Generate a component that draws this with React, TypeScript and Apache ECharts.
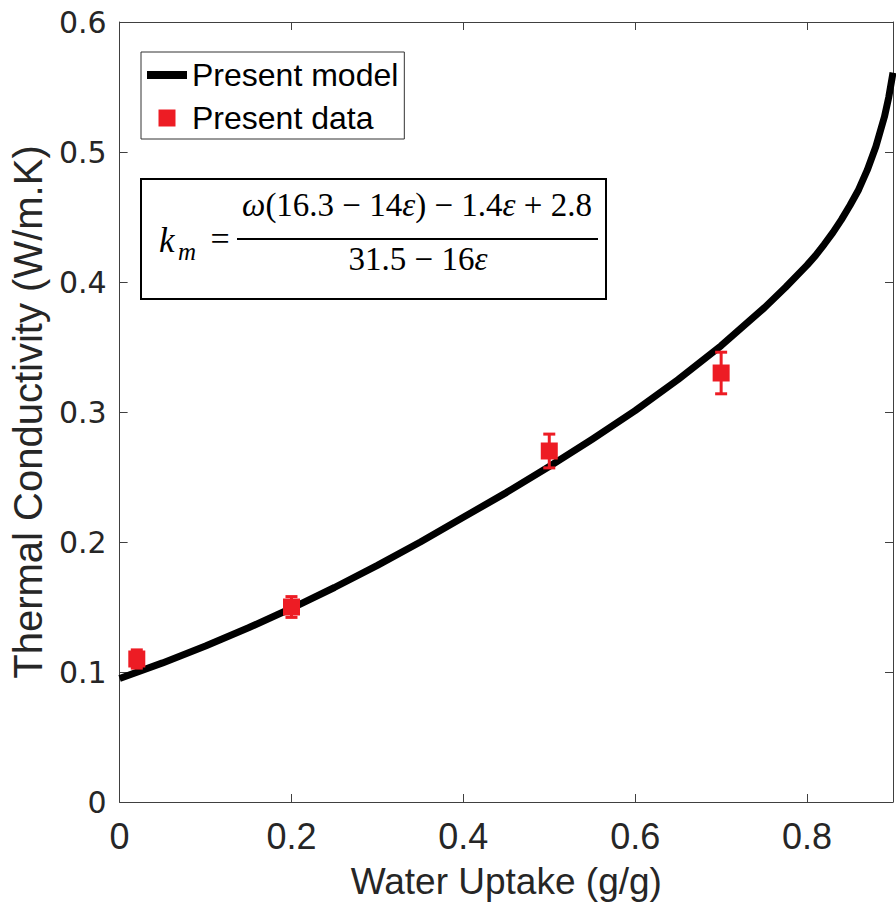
import React, { useEffect, useRef } from 'react';
import * as echarts from 'echarts';

// Model curve
const modelX = [0, 0.05, 0.1, 0.15, 0.2, 0.25, 0.3, 0.35, 0.4, 0.45, 0.5, 0.55, 0.6, 0.65, 0.7, 0.75, 0.775, 0.8, 0.81, 0.82, 0.83, 0.84, 0.85, 0.86, 0.87, 0.88, 0.89, 0.895, 0.9];
const modelY = [0.095, 0.107, 0.12, 0.134, 0.149, 0.165, 0.182, 0.2, 0.219, 0.238, 0.258, 0.279, 0.301, 0.325, 0.351, 0.38, 0.396, 0.413, 0.4205, 0.429, 0.438, 0.448, 0.459, 0.471, 0.486, 0.504, 0.527, 0.542, 0.561];

// Measured data with error bars
const dataX = [0.02, 0.2, 0.5, 0.7];
const dataY = [0.11, 0.15, 0.27, 0.33];
const dataErr = [0.007, 0.008, 0.013, 0.016];

// Axis ticks
const xTickValues = [0, 0.2, 0.4, 0.6, 0.8];
const yTickValues = [0, 0.1, 0.2, 0.3, 0.4, 0.5, 0.6];

const RED = '#ED1C24';
const AXIS = '#404040';
const TXT = '#262626';
const SANS = '"Liberation Sans", Arial, sans-serif';
const SERIF = '"Liberation Serif", "Times New Roman", serif';

export default function App() {
  const ref = useRef<HTMLDivElement>(null);

  useEffect(() => {
    document.body.style.margin = '0';
    const chart = echarts.init(ref.current!, undefined, { renderer: 'svg' });

    const fmt = (v: number) => String(+v.toFixed(1));
    const isTick = (arr: number[], v: number) => arr.some((t) => Math.abs(t - v) < 1e-6);

    const option: any = {
      animation: false,
      backgroundColor: '#fff',
      grid: { left: 117, top: 22, right: -3, bottom: 109, containLabel: false },
      xAxis: [
        {
          type: 'value', min: 0, max: 0.9, interval: 0.2,
          name: 'Water Uptake (g/g)', nameLocation: 'middle', nameGap: 61,
          nameTextStyle: { fontFamily: SANS, fontSize: 37, color: TXT },
          axisLine: { show: true, lineStyle: { color: AXIS, width: 1 } },
          axisTick: { show: true, inside: true, length: 8, lineStyle: { color: AXIS } },
          axisLabel: { formatter: (v: number) => (isTick(xTickValues, v) ? fmt(v) : ''), fontFamily: SANS, fontSize: 36, color: TXT, margin: 16 },
          splitLine: { show: false },
        },
        {
          type: 'value', position: 'top', min: 0, max: 0.9, interval: 0.2,
          axisLine: { show: true, onZero: false, lineStyle: { color: AXIS, width: 1 } },
          axisTick: { show: true, inside: true, length: 8, lineStyle: { color: AXIS } },
          axisLabel: { show: false },
          splitLine: { show: false },
        },
      ],
      yAxis: [
        {
          type: 'value', min: 0, max: 0.6, interval: 0.1,
          name: 'Thermal Conductivity (W/m.K)', nameLocation: 'middle', nameGap: 64,
          nameTextStyle: { fontFamily: SANS, fontSize: 40, color: TXT },
          axisLine: { show: true, lineStyle: { color: AXIS, width: 1 } },
          axisTick: { show: true, inside: true, length: 8, lineStyle: { color: AXIS } },
          axisLabel: { formatter: (v: number) => (isTick(yTickValues, v) ? fmt(v) : ''), fontFamily: '"DejaVu Sans", sans-serif', fontSize: 30, color: TXT, margin: 13 },
          splitLine: { show: false },
        },
        {
          type: 'value', position: 'right', min: 0, max: 0.6, interval: 0.1,
          axisLine: { show: true, onZero: false, lineStyle: { color: AXIS, width: 1 } },
          axisTick: { show: true, inside: true, length: 8, lineStyle: { color: AXIS } },
          axisLabel: { show: false },
          splitLine: { show: false },
        },
      ],
      legend: {
        left: 141, top: 52, orient: 'vertical',
        backgroundColor: '#fff', borderColor: '#333', borderWidth: 1, borderRadius: 0,
        padding: [6, 6, 4, 6], itemGap: 9, itemWidth: 40, itemHeight: 17,
        symbolKeepAspect: true,
        textStyle: { fontFamily: SANS, fontSize: 32, color: '#000', lineHeight: 34 },
        data: [
          { name: 'Present model', icon: 'path://M0,0h40v8h-40z' },
          { name: 'Present data', icon: 'path://M0,0h10v10h-10z' },
        ],
      },
      series: [
        {
          name: 'Present model', type: 'line', smooth: false, showSymbol: false,
          data: modelX.map((x, i) => [x, modelY[i]]),
          lineStyle: { color: '#000', width: 7, cap: 'butt', join: 'round' }, itemStyle: { color: '#000' },
          z: 2,
        },
        {
          type: 'custom', name: 'err',
          encode: { x: 0, y: [1, 2] },
          data: dataX.map((x, i) => [x, dataY[i] - dataErr[i], dataY[i] + dataErr[i]]),
          renderItem: (params: any, api: any) => {
            const x = api.value(0);
            const lo = api.coord([x, api.value(1)]);
            const hi = api.coord([x, api.value(2)]);
            const w = 6;
            const st = { stroke: RED, lineWidth: 3 };
            return {
              type: 'group',
              children: [
                { type: 'line', shape: { x1: hi[0], y1: hi[1], x2: lo[0], y2: lo[1] }, style: st },
                { type: 'line', shape: { x1: hi[0] - w, y1: hi[1], x2: hi[0] + w, y2: hi[1] }, style: st },
                { type: 'line', shape: { x1: lo[0] - w, y1: lo[1], x2: lo[0] + w, y2: lo[1] }, style: st },
              ],
            };
          },
          z: 3,
        },
        {
          name: 'Present data', type: 'scatter', symbol: 'rect', symbolSize: 17,
          data: dataX.map((x, i) => [x, dataY[i]]),
          itemStyle: { color: RED, opacity: 1 },
          z: 4,
        },
      ],
      graphic: [
        { type: 'rect', shape: { x: 141, y: 179, width: 465, height: 120 }, style: { fill: '#fff', stroke: '#000', lineWidth: 2 }, z: 10 },
        { type: 'text', x: 159, y: 240, style: { text: 'k', fontFamily: SERIF, fontStyle: 'italic', fontSize: 35, fill: '#000', align: 'left', verticalAlign: 'middle' }, z: 11 },
        { type: 'text', x: 178, y: 251, style: { text: 'm', fontFamily: SERIF, fontStyle: 'italic', fontSize: 25, fill: '#000', align: 'left', verticalAlign: 'middle' }, z: 11 },
        { type: 'text', x: 220, y: 238, style: { text: '=', fontFamily: SERIF, fontSize: 34, fill: '#000', align: 'center', verticalAlign: 'middle' }, z: 11 },
        { type: 'line', shape: { x1: 237, y1: 239, x2: 598, y2: 239 }, style: { stroke: '#000', lineWidth: 2 }, z: 11 },
        {
          type: 'text', x: 417, y: 205,
          style: {
            text: '{i|ω}(16.3 − 14{i|ε}) − 1.4{i|ε} + 2.8',
            fontFamily: SERIF, fontSize: 33, fill: '#000', align: 'center', verticalAlign: 'middle',
            rich: { i: { fontFamily: SERIF, fontStyle: 'italic', fontSize: 33, fill: '#000' } },
          },
          z: 11,
        },
        {
          type: 'text', x: 418, y: 259,
          style: {
            text: '31.5 − 16{i|ε}',
            fontFamily: SERIF, fontSize: 33, fill: '#000', align: 'center', verticalAlign: 'middle',
            rich: { i: { fontFamily: SERIF, fontStyle: 'italic', fontSize: 33, fill: '#000' } },
          },
          z: 11,
        },
      ],
    };

    chart.setOption(option);
    return () => chart.dispose();
  }, []);

  return <div ref={ref} style={{ position: 'absolute', left: 0, top: 0, width: 896, height: 911 }} />;
}
